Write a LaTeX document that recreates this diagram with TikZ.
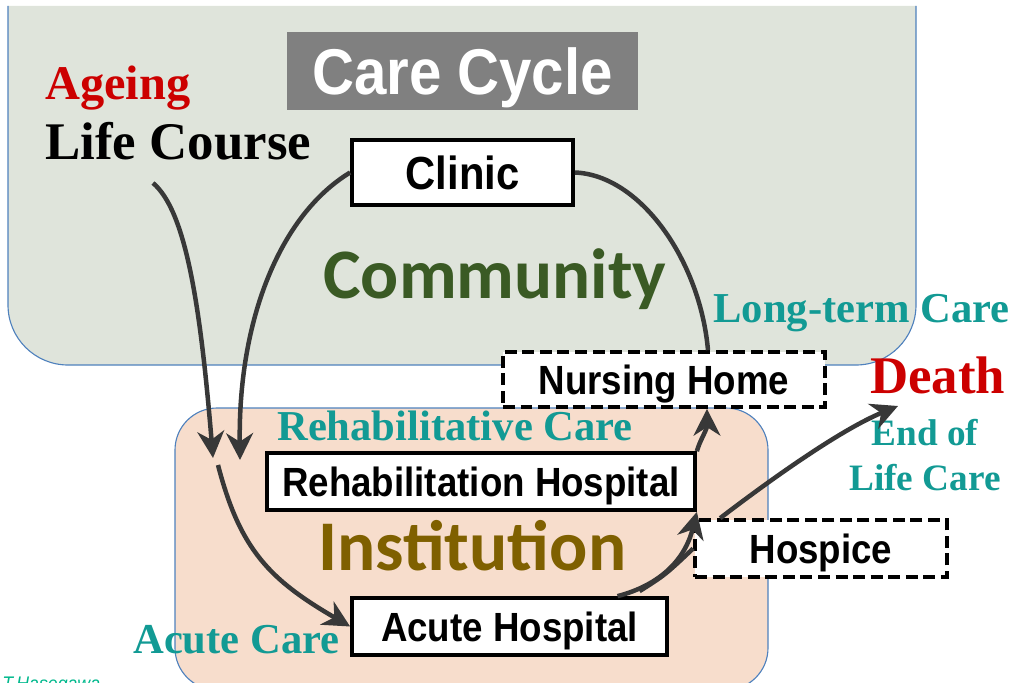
\documentclass[tikz,border=0pt]{standalone}
\usepackage{fontspec}
\usepackage{tikz}
\usetikzlibrary{arrows.meta, calc}
\newfontfamily\arialfont{Liberation Sans}[FakeStretch=0.9]
\newfontfamily\timesfont{Liberation Serif}
\newfontfamily\calibrifont{Carlito}

\definecolor{commfill}{RGB}{223,228,219}
\definecolor{instfill}{RGB}{247,221,204}
\definecolor{edgeblue}{RGB}{79,129,189}
\definecolor{careteal}{RGB}{18,154,148}
\definecolor{deathred}{RGB}{204,0,0}
\definecolor{commgreen}{RGB}{58,90,36}
\definecolor{instbrown}{RGB}{127,96,0}
\definecolor{arrowgray}{RGB}{56,56,56}
\definecolor{signgreen}{RGB}{0,184,140}

\begin{document}
\begin{tikzpicture}[
    x=0.025cm, y=-0.025cm,
    >={Stealth[length=19pt, width=19pt, inset=6pt]},
    setting/.style={draw=edgeblue, line width=0.8pt},
    box/.style={rectangle, draw=black, line width=2.6pt, fill=white, inner sep=0pt, minimum height=1.425cm, text height=21pt, text depth=0pt, font=\arialfont\bfseries\fontsize{29}{30}\selectfont},
    dashbox/.style={box, dash pattern=on 8.5pt off 4pt},
    label/.style={anchor=base west, inner sep=0pt},
    caption/.style={label, text=careteal, font=\timesfont\bfseries\fontsize{30.3}{32}\selectfont},
    arrow/.style={->, draw=arrowgray, line width=3.2pt},
    flow/.style={draw=arrowgray, line width=3.2pt}
]
\useasboundingbox (0,0) rectangle (1015,683);

% SETTINGS (BACKGROUND)
\draw[setting, fill=commfill, rounded corners=1.5cm] (8,6) -- (8,365) -- (916,365) -- (916,6);
\draw[setting, fill=instfill, rounded corners=1.05cm] (175,408) rectangle (768,690);

% TITLE AND LABELS
\node[fill=gray, text=white, inner sep=0pt, minimum width=8.775cm, minimum height=1.95cm, text height=33pt, text depth=0pt, font=\arialfont\bfseries\fontsize{46}{48}\selectfont] (title) at (462.5,71) {Care Cycle};
\node[label, text=deathred, font=\timesfont\bfseries\fontsize{34.4}{36}\selectfont] (ageing) at (45,100) {Ageing};
\node[label, text=black, font=\timesfont\bfseries\fontsize{37.6}{40}\selectfont] (lifecourse) at (45,160) {Life Course};
\node[label, text=commgreen, font=\calibrifont\bfseries\fontsize{50.5}{52}\selectfont] (community) at (323,298) {Community};
\node[label, text=instbrown, font=\calibrifont\bfseries\fontsize{50.7}{52}\selectfont] (institution) at (318,570) {Institution};
\node[caption] (longterm) at (713,322) {Long-term Care};
\node[caption] (rehabcare) at (277,440) {Rehabilitative Care};
\node[caption] (acutecare) at (133,653) {Acute Care};
\node[label, text=deathred, font=\timesfont\bfseries\fontsize{37.6}{40}\selectfont] (death) at (870,393) {Death};
\node[anchor=north, inner sep=0pt, align=center, text=careteal, font=\timesfont\bfseries\fontsize{26.5}{32}\selectfont] (endoflife) at (925,419) {End of\\Life Care};
\node[label, text=signgreen, font=\arialfont\itshape\fontsize{14}{15}\selectfont] (signature) at (2,690) {T.Hasegawa};

% CARE PLACES
\node[box, minimum width=5.525cm, minimum height=1.625cm, text height=23.7pt, font=\arialfont\bfseries\fontsize{33}{34}\selectfont] (clinic) at (462.5,172.5) {Clinic};
\node[dashbox, minimum width=8.05cm, minimum height=1.375cm] (nursing) at (664,379.5) {Nursing Home};
\node[box, minimum width=10.7cm] (rehab) at (481,481.5) {Rehabilitation Hospital};
\node[dashbox, minimum width=6.3cm] (hospice) at (821,548.5) {Hospice};
\node[box, minimum width=7.875cm] (acute) at (509.5,626.5) {Acute Hospital};

\coordinate (lcstart) at (153,183);
\coordinate (lcend) at (213,458);
\coordinate (clinicend) at (240,460);
\coordinate (admit) at (218,465);
\coordinate (deathend) at (898,406);

% PATHWAYS
\draw[arrow] (lcstart) .. controls (185,210) and (200,300) .. (lcend);
\draw[arrow] (clinic.west) .. controls (280,215) and (238,320) .. (clinicend);
\draw[arrow] (admit) .. controls (240,550) and (270,580) .. (acute.west);
\draw[arrow] ($(acute.north)+(108,0)$) .. controls (660,585) and (685,560) .. (rehab.south east);
\draw[flow] ($(acute.north)+(130,-5)$) .. controls (665,575) .. (hospice.west);
\draw[arrow] (rehab.north east) .. controls (700,440) and (707,430) .. ($(nursing.south)+(43,0)$);
\draw[arrow] ($(hospice.north west)+(27,0)$) .. controls (770,480) and (840,430) .. (deathend);
\draw[flow] (clinic.east) .. controls (640,175) and (700,260) .. ($(nursing.north)+(44,0)$);

\end{tikzpicture}
\end{document}
